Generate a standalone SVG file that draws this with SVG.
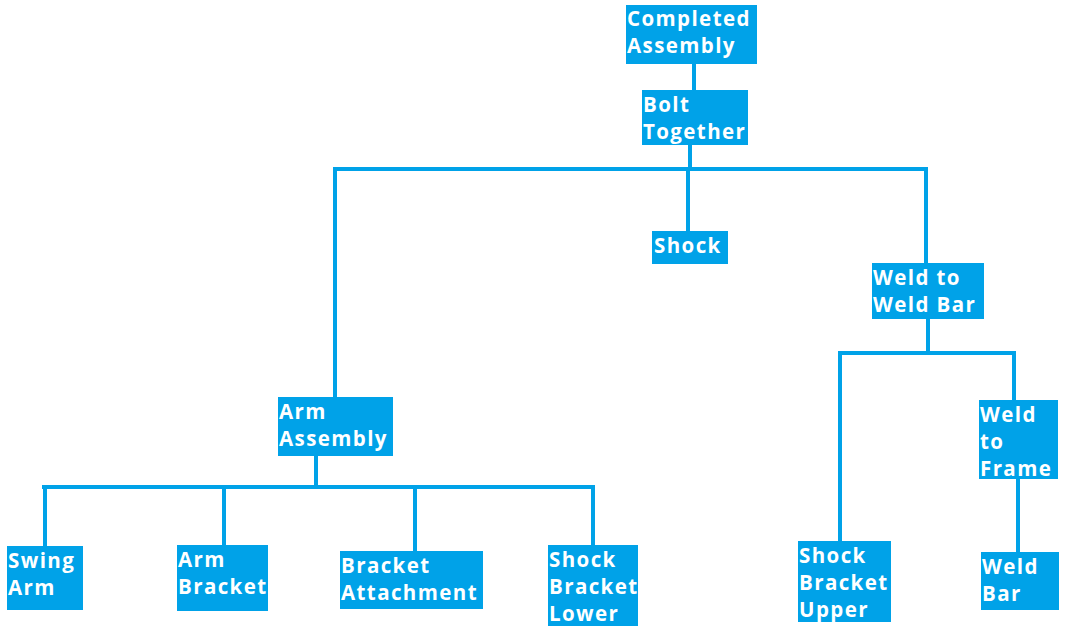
<svg xmlns="http://www.w3.org/2000/svg" width="1070" height="635" viewBox="0 0 1070 635">
<style>
.box{fill:#00A2E8}
.t{fill:#fff;font-family:"Open Sans","DejaVu Sans",sans-serif;font-weight:bold;font-size:20.5px;letter-spacing:1.4px}
.c{stroke:#00A2E8;stroke-width:4;fill:none;stroke-linecap:square}
</style>
<rect width="1070" height="635" fill="#fff"/>
<g id="connectors">
<path class="c" d="M694 64V90"/>
<path class="c" d="M690 145V169M335 169H926M335 169V397M688 169V231M926 169V263"/>
<path class="c" d="M928 319V353M840 353H1014M840 353V541M1014 353V400"/>
<path class="c" d="M1018 479V552"/>
<path class="c" d="M316 456V487M44 487H593M45 487V546M224 487V545M415 487V551M593 487V545"/>
</g>
<g id="completed"><rect class="box" x="626" y="5" width="131" height="59"/><text class="t" x="627" y="26">Completed<tspan x="627" dy="27">Assembly</tspan></text></g>
<g id="bolt"><rect class="box" x="642" y="90" width="106" height="55"/><text class="t" x="643" y="112">Bolt<tspan x="643" dy="27">Together</tspan></text></g>
<g id="shock"><rect class="box" x="652" y="231" width="76" height="33"/><text class="t" x="654" y="253">Shock</text></g>
<g id="weldtoweldbar"><rect class="box" x="872" y="263" width="112" height="56"/><text class="t" x="873" y="285">Weld to<tspan x="873" dy="27">Weld Bar</tspan></text></g>
<g id="armassembly"><rect class="box" x="278" y="397" width="115" height="59"/><text class="t" x="279" y="419">Arm<tspan x="279" dy="27">Assembly</tspan></text></g>
<g id="swingarm"><rect class="box" x="7" y="546" width="76" height="64"/><text class="t" x="8" y="568">Swing<tspan x="8" dy="27">Arm</tspan></text></g>
<g id="armbracket"><rect class="box" x="177" y="545" width="91" height="66"/><text class="t" x="178" y="567">Arm<tspan x="178" dy="27">Bracket</tspan></text></g>
<g id="bracketattachment"><rect class="box" x="340" y="551" width="143" height="58"/><text class="t" x="341" y="573">Bracket<tspan x="341" dy="27">Attachment</tspan></text></g>
<g id="shockbracketlower"><rect class="box" x="548" y="545" width="90" height="81"/><text class="t" x="549" y="567">Shock<tspan x="549" dy="27">Bracket</tspan><tspan x="549" dy="27">Lower</tspan></text></g>
<g id="shockbracketupper"><rect class="box" x="798" y="541" width="93" height="81"/><text class="t" x="799" y="563">Shock<tspan x="799" dy="27">Bracket</tspan><tspan x="799" dy="27">Upper</tspan></text></g>
<g id="weldtoframe"><rect class="box" x="979" y="400" width="79" height="79"/><text class="t" x="980" y="422">Weld<tspan x="980" dy="27">to</tspan><tspan x="980" dy="27">Frame</tspan></text></g>
<g id="weldbar"><rect class="box" x="981" y="552" width="78" height="58"/><text class="t" x="982" y="574">Weld<tspan x="982" dy="27">Bar</tspan></text></g>
</svg>
